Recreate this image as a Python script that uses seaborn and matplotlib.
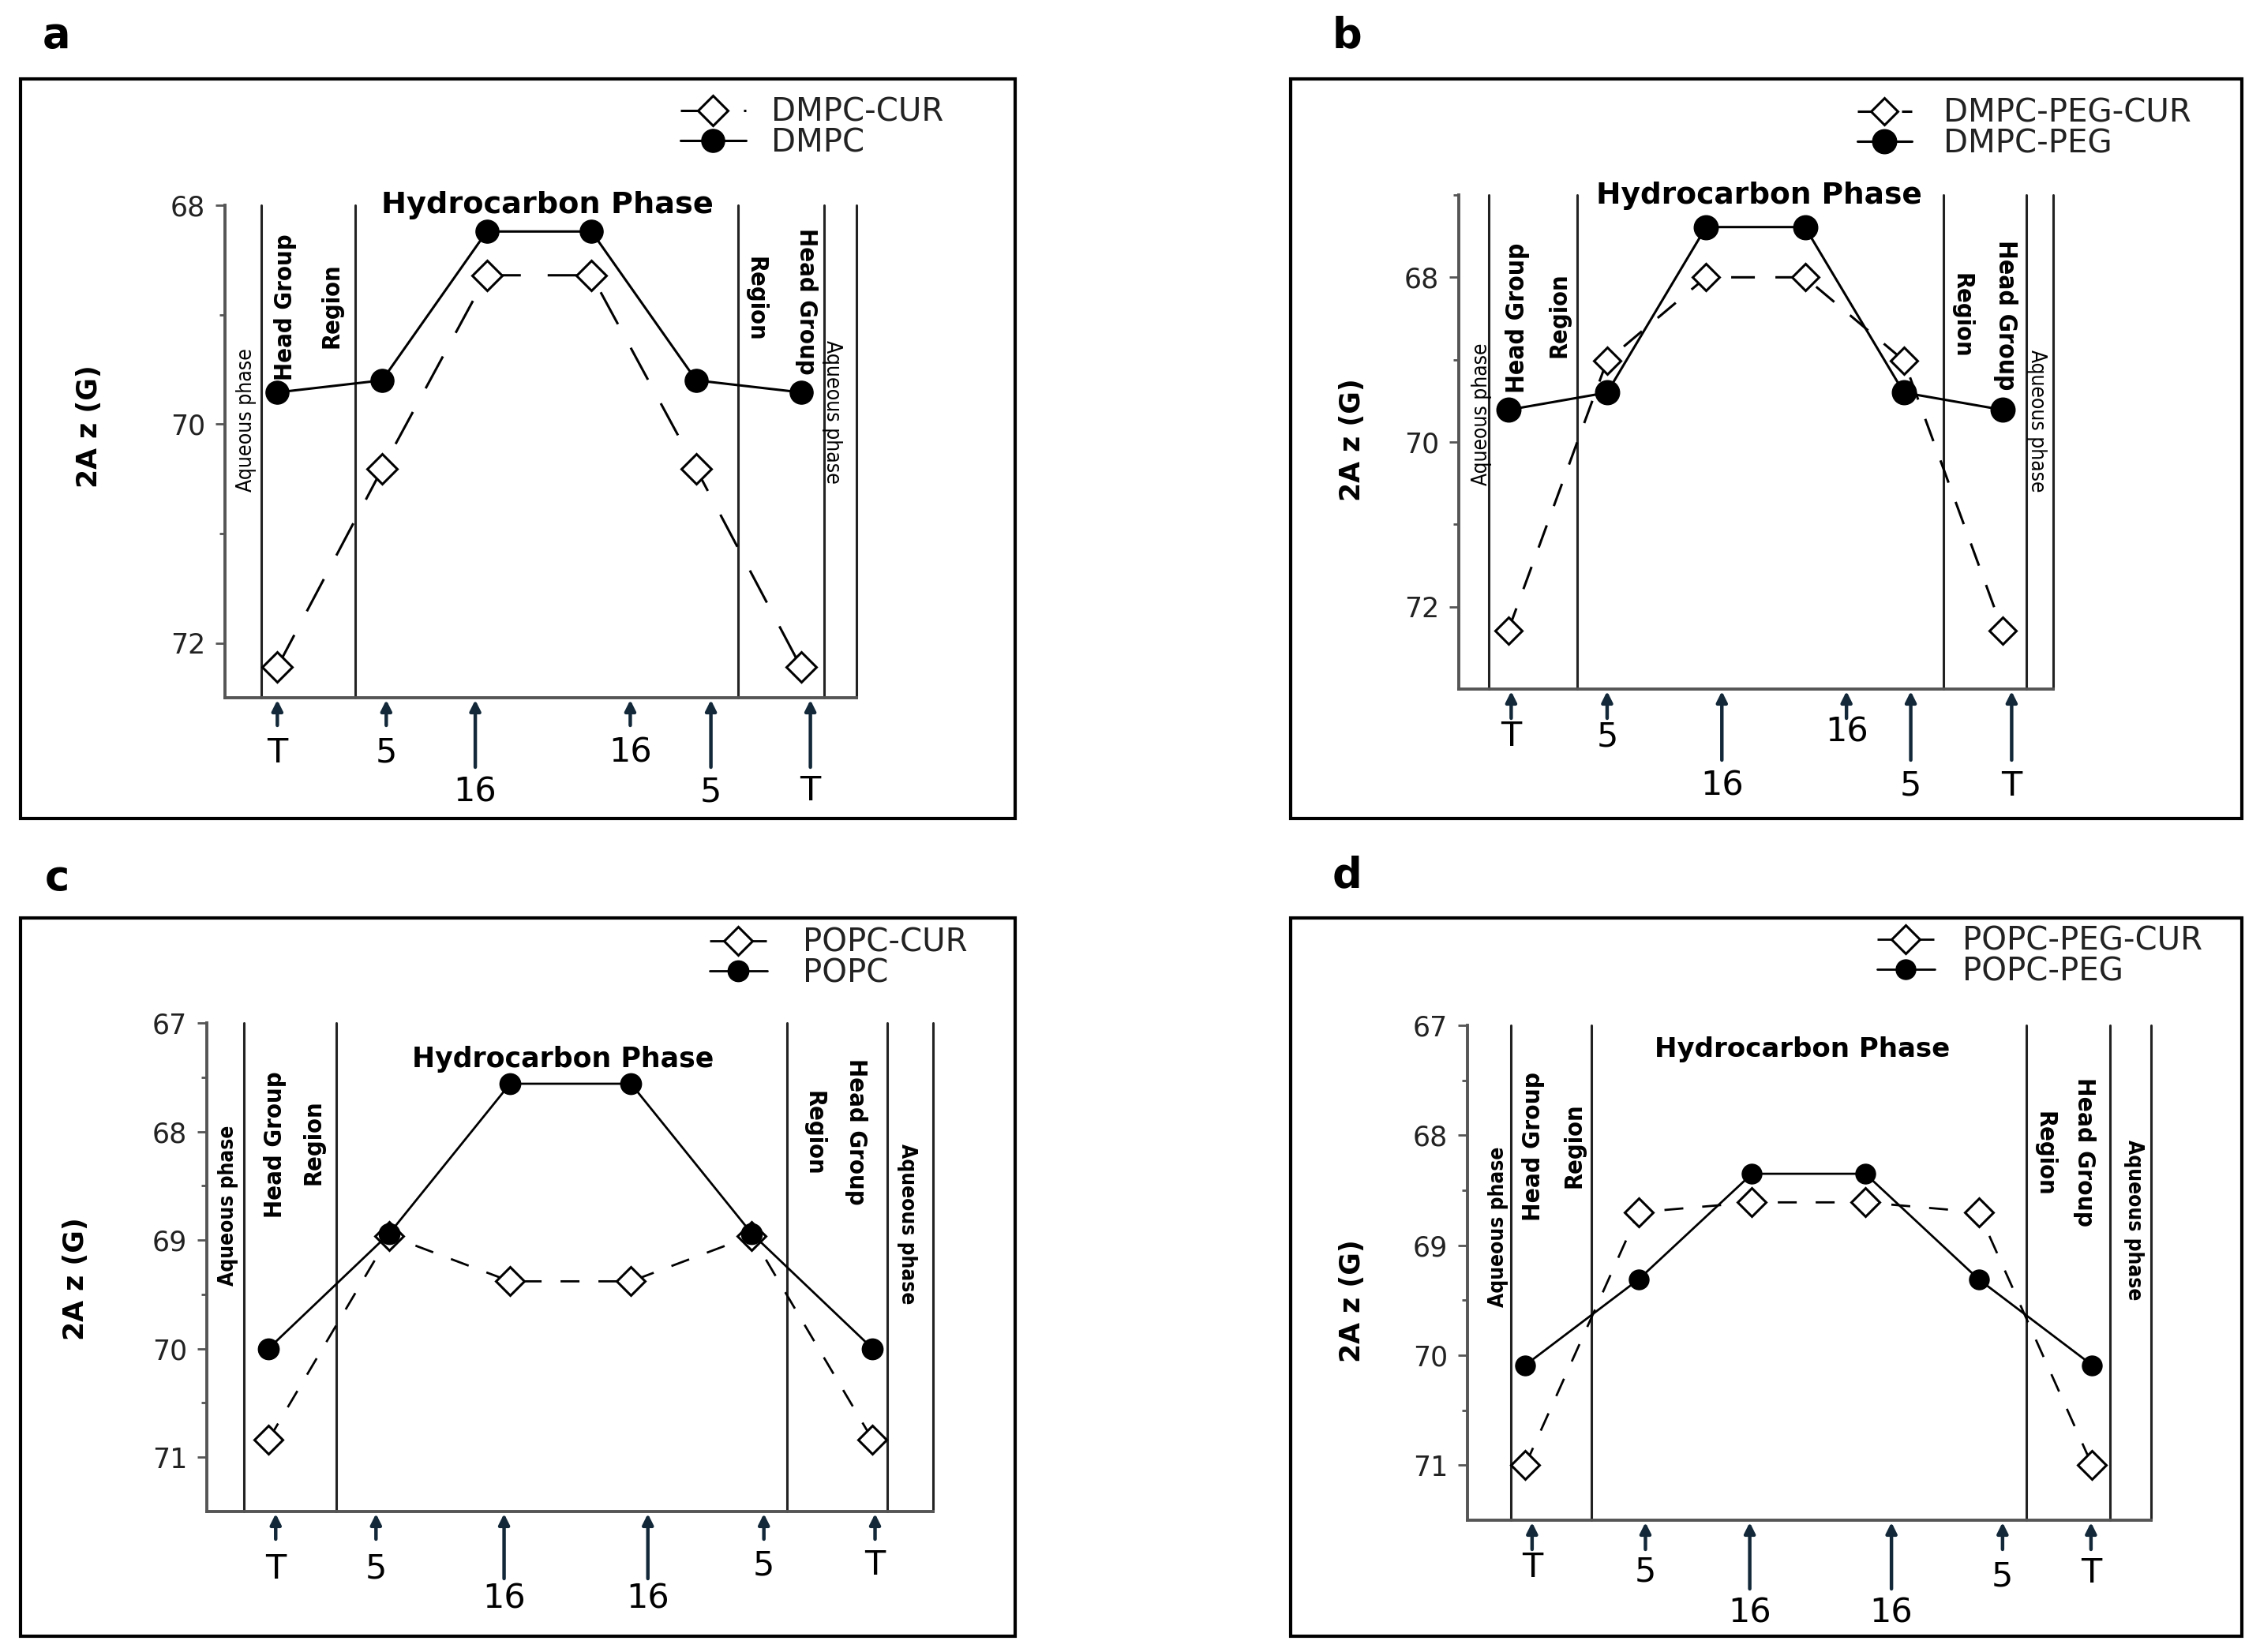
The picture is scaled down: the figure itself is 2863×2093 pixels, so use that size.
import os
import matplotlib
matplotlib.use("Agg")
import matplotlib.pyplot as plt
import seaborn as sns
import pandas as pd
from matplotlib import font_manager
from matplotlib.font_manager import FontProperties
from matplotlib.patches import Rectangle

# ---------------- data ----------------
positions = [1, 2, 3, 4, 5, 6]
arrow_labels = ["T", "5", "16", "16", "5", "T"]

a_labels = ["DMPC-CUR", "DMPC"]
a_cur = [72.22, 70.41, 68.64, 68.64, 70.41, 72.22]
a_base = [69.71, 69.60, 68.24, 68.24, 69.60, 69.71]
a_yticks = [68, 70, 72]
a_yminor = [69, 71]

b_labels = ["DMPC-PEG-CUR", "DMPC-PEG"]
b_cur = [72.29, 69.01, 68.00, 68.00, 69.01, 72.29]
b_base = [69.61, 69.40, 67.39, 67.39, 69.40, 69.61]
b_yticks = [68, 70, 72]
b_yminor = [67, 69, 71]

c_labels = ["POPC-CUR", "POPC"]
c_cur = [70.84, 68.96, 69.38, 69.38, 68.96, 70.84]
c_base = [70.00, 68.94, 67.56, 67.56, 68.94, 70.00]
c_yticks = [67, 68, 69, 70, 71]
c_yminor = [67.5, 68.5, 69.5, 70.5]

d_labels = ["POPC-PEG-CUR", "POPC-PEG"]
d_cur = [71.00, 68.70, 68.61, 68.61, 68.70, 71.00]
d_base = [70.09, 69.31, 68.35, 68.35, 69.31, 70.09]
d_yticks = [67, 68, 69, 70, 71]
d_yminor = [67.5, 68.5, 69.5, 70.5]

panel_letters = ["a", "b", "c", "d"]
ylabel = "2A z (G)"
hydro_text = "Hydrocarbon Phase"
aq_text = "Aqueous phase"
hg_text = "Head Group"
reg_text = "Region"

# ---------------- fonts ----------------
W, H = 2863, 2093
DPI = 100
sns.set_style("ticks")
plt.rcParams["font.family"] = ["DejaVu Sans"]
plt.rcParams["text.color"] = "black"
plt.rcParams["axes.labelcolor"] = "black"

all_files = [f.fname for f in font_manager.fontManager.ttflist]
try:
    all_files += font_manager.findSystemFonts()
except Exception:
    pass


def find_font(keys):
    for key in keys:
        for fp in all_files:
            if os.path.basename(fp).lower() == key.lower():
                return fp
    return None


narrow_bold = find_font(["LiberationSansNarrow-Bold.ttf", "DejaVuSansCondensed-Bold.ttf"])
narrow_reg = find_font(["LiberationSansNarrow-Regular.ttf", "DejaVuSansCondensed.ttf"])
sans_bold = find_font(["LiberationSans-Bold.ttf"])
sans_reg = find_font(["LiberationSans-Regular.ttf"])


def fprop(path, fallback_family, weight):
    if path:
        return FontProperties(fname=path)
    return FontProperties(family=fallback_family, weight=weight)


HG_FP = fprop(narrow_bold or sans_bold, "DejaVu Sans", "bold")
AQ_FP_AB = fprop(narrow_reg or sans_reg, "DejaVu Sans", "normal")
AQ_FP_CD = fprop(narrow_bold or sans_bold, "DejaVu Sans", "bold")

# ---------------- layout (pixels, figure 2863 x 2093) ----------------
panels = [
    dict(labels=a_labels, cur=a_cur, base=a_base, yticks=a_yticks, yminor=a_yminor,
         ylim=(72.5, 68.0), xlim=(0.5, 6.53),
         ax_px=(285, 260, 1085, 884), box=(26, 100, 1286, 1037),
         letter_xy=(72, 45), ylab_xy=(113, 540),
         vlines=[0.85, 1.74, 5.40, 6.22, 6.53],
         aq=[(0.76, 69.96), (6.24, 69.89)], hg=[(1.14, 68.93), (5.99, 68.88)],
         reg=[(1.58, 68.92), (5.50, 68.86)], hydro=(3.58, 68.07), hydro_fs=27.5,
         aq_bold=False, aq_len=182, hg_len=186, reg_len=108,
         arrows=[1.00, 2.04, 2.89, 4.37, 5.14, 6.09],
         arrow_long=[False, False, True, False, True, True],
         arrow_lab_off=[70, 70, 120, 70, 120, 118],
         arrow_len=(35, 88), ms_d=19, ms_o=21, lw=2.2, dash=(46, 34),
         leg_xy=(862, 162), leg_hl=2.06, leg_htp=0.79),
    dict(labels=b_labels, cur=b_cur, base=b_base, yticks=b_yticks, yminor=b_yminor,
         ylim=(73.0, 67.0), xlim=(0.5, 6.51),
         ax_px=(1848, 247, 2601, 873), box=(1635, 100, 2840, 1037),
         letter_xy=(1706, 45), ylab_xy=(1713, 557),
         vlines=[0.80, 1.70, 5.40, 6.24, 6.51],
         aq=[(0.79, 69.66), (6.29, 69.74)], hg=[(1.16, 68.49), (5.96, 68.46)],
         reg=[(1.585, 68.46), (5.52, 68.46)], hydro=(3.54, 67.11), hydro_fs=27,
         aq_bold=False, aq_len=180, hg_len=190, reg_len=108,
         arrows=[1.03, 2.00, 3.16, 4.42, 5.07, 6.09],
         arrow_long=[False, False, True, False, True, True],
         arrow_lab_off=[60, 60, 123, 55, 123, 123],
         arrow_len=(37, 90), ms_d=17.5, ms_o=22, lw=2.2, dash=(30, 26),
         leg_xy=(2353, 163), leg_hl=1.71, leg_htp=1.0),
    dict(labels=c_labels, cur=c_cur, base=c_base, yticks=c_yticks, yminor=c_yminor,
         ylim=(71.5, 67.0), xlim=(0.49, 6.50),
         ax_px=(262, 1296, 1182, 1915), box=(26, 1163, 1286, 2073),
         letter_xy=(72, 1113), ylab_xy=(96, 1620),
         vlines=[0.80, 1.56, 5.29, 6.12, 6.50],
         aq=[(0.71, 68.68), (6.24, 68.85)], hg=[(1.11, 68.12), (5.81, 68.00)],
         reg=[(1.43, 68.10), (5.46, 68.02)], hydro=(3.44, 67.41), hydro_fs=25,
         aq_bold=True, aq_len=203, hg_len=186, reg_len=108,
         arrows=[1.06, 1.89, 2.95, 4.14, 5.10, 6.02],
         arrow_long=[False, False, True, True, False, False],
         arrow_lab_off=[73, 73, 111, 111, 68, 68],
         arrow_len=(35, 85), ms_d=18.5, ms_o=19, lw=2.0, dash=(24, 24),
         leg_xy=(899, 1214), leg_hl=1.81, leg_htp=1.12),
    dict(labels=d_labels, cur=d_cur, base=d_base, yticks=d_yticks, yminor=d_yminor,
         ylim=(71.5, 67.0), xlim=(0.49, 6.52),
         ax_px=(1859, 1299, 2725, 1926), box=(1635, 1163, 2840, 2073),
         letter_xy=(1706, 1109), ylab_xy=(1713, 1648),
         vlines=[0.87, 1.58, 5.42, 6.16, 6.52],
         aq=[(0.81, 68.83), (6.32, 68.77)], hg=[(1.13, 68.10), (5.87, 68.15)],
         reg=[(1.49, 68.09), (5.52, 68.17)], hydro=(3.44, 67.29), hydro_fs=24.5,
         aq_bold=True, aq_len=203, hg_len=189, reg_len=108,
         arrows=[1.06, 2.06, 2.98, 4.23, 5.21, 5.99],
         arrow_long=[False, False, True, True, False, False],
         arrow_lab_off=[60, 65, 118, 118, 72, 67],
         arrow_len=(37, 87), ms_d=18, ms_o=18, lw=2.0, dash=(24, 24),
         leg_xy=(2378, 1212), leg_hl=1.81, leg_htp=0.87),
]

fig = plt.figure(figsize=(W / DPI, H / DPI), dpi=DPI)
fig.patch.set_facecolor("white")

SPINE = "#555555"
ARROW = "#13293a"
fit_list = []  # (text artist, target length in px)

for letter, p in zip(panel_letters, panels):
    bx0, by0, bx1, by1 = p["box"]
    fig.add_artist(Rectangle((bx0 / W, 1 - by1 / H), (bx1 - bx0) / W, (by1 - by0) / H,
                             transform=fig.transFigure, fill=False, lw=3.0,
                             edgecolor="black", zorder=0))
    fig.text(p["letter_xy"][0] / W, 1 - p["letter_xy"][1] / H, letter,
             fontsize=38, fontweight="bold", ha="center", va="center", color="black")

    x0, y0, x1, y1 = p["ax_px"]
    ax = fig.add_axes([x0 / W, 1 - y1 / H, (x1 - x0) / W, (y1 - y0) / H])
    ax.set_facecolor("none")

    df = pd.DataFrame({"pos": positions, "cur": p["cur"], "base": p["base"]})
    sns.lineplot(data=df, x="pos", y="cur", ax=ax, sort=False, estimator=None,
                 color="black", lw=p["lw"], marker="D", markersize=p["ms_d"],
                 markerfacecolor="white", markeredgecolor="black",
                 markeredgewidth=2.2, label=p["labels"][0], zorder=3)
    on, off = p["dash"]
    ax.lines[-1].set_dashes([on * 0.72 / p["lw"], off * 0.72 / p["lw"]])
    sns.lineplot(data=df, x="pos", y="base", ax=ax, sort=False, estimator=None,
                 color="black", lw=p["lw"], marker="o", markersize=p["ms_o"],
                 markerfacecolor="black", markeredgecolor="black",
                 markeredgewidth=1.0, label=p["labels"][1], zorder=4)

    ax.set_xlim(*p["xlim"])
    ax.set_ylim(*p["ylim"])
    ax.set_xlabel("")
    ax.set_ylabel("")
    ax.set_xticks([])
    ax.set_yticks(p["yticks"])
    ax.set_yticks(p["yminor"], minor=True)
    ax.set_yticklabels([str(t) for t in p["yticks"]])
    ax.tick_params(axis="y", which="major", length=9, width=2.0, color=SPINE,
                   labelsize=25, pad=9, labelcolor="#222222", direction="out")
    ax.tick_params(axis="y", which="minor", length=5, width=2.0, color=SPINE,
                   direction="out")
    for s in ["top", "right"]:
        ax.spines[s].set_visible(False)
    for s in ["left", "bottom"]:
        ax.spines[s].set_color(SPINE)
        ax.spines[s].set_linewidth(2.8)

    for xv in p["vlines"]:
        ax.axvline(xv, color="#222222", lw=2.2, zorder=1, clip_on=False)

    # region texts (rotated), sizes fitted to measured lengths below
    aq_fp = AQ_FP_CD if p["aq_bold"] else AQ_FP_AB
    for (xx, yy), rot in zip(p["aq"], [90, -90]):
        t = ax.text(xx, yy, aq_text, rotation=rot, rotation_mode="anchor",
                    ha="center", va="baseline", color="black",
                    fontproperties=aq_fp.copy())
        fit_list.append((t, p["aq_len"]))
    for (xx, yy), rot in zip(p["hg"], [90, -90]):
        t = ax.text(xx, yy, hg_text, rotation=rot, rotation_mode="anchor",
                    ha="center", va="baseline", color="black",
                    fontproperties=HG_FP.copy())
        fit_list.append((t, p["hg_len"]))
    for (xx, yy), rot in zip(p["reg"], [90, -90]):
        t = ax.text(xx, yy, reg_text, rotation=rot, rotation_mode="anchor",
                    ha="center", va="baseline", color="black",
                    fontproperties=HG_FP.copy())
        fit_list.append((t, p["reg_len"]))
    ax.text(p["hydro"][0], p["hydro"][1], hydro_text, fontsize=p["hydro_fs"],
            fontweight="bold", ha="center", va="baseline", clip_on=False,
            color="black")

    short_len, long_len = p["arrow_len"]
    for xa, lab, lng, off in zip(p["arrows"], arrow_labels, p["arrow_long"],
                                 p["arrow_lab_off"]):
        L = long_len if lng else short_len
        ax.annotate("", xy=(xa, 0), xycoords=("data", "axes fraction"),
                    xytext=(0, -L), textcoords="offset pixels",
                    arrowprops=dict(arrowstyle="-|>", color=ARROW, lw=3.2,
                                    shrinkA=0, shrinkB=2, mutation_scale=20),
                    annotation_clip=False)
        ax.annotate(lab, xy=(xa, 0), xycoords=("data", "axes fraction"),
                    xytext=(0, -off), textcoords="offset pixels",
                    ha="center", va="center", fontsize=31, color="black",
                    annotation_clip=False)

    fig.text(p["ylab_xy"][0] / W, 1 - p["ylab_xy"][1] / H, ylabel, rotation=90,
             fontsize=25, fontweight="bold", ha="center", va="center",
             color="black")

    lx, ly = p["leg_xy"]
    leg = ax.legend(loc="center left", bbox_to_anchor=(lx / W, 1 - ly / H),
                    bbox_transform=fig.transFigure, frameon=False, fontsize=29,
                    handlelength=p["leg_hl"], handletextpad=p["leg_htp"],
                    labelspacing=-0.03, borderpad=0, borderaxespad=0)
    for t in leg.get_texts():
        t.set_color("#222222")

# fit rotated label sizes so their lengths match the reference
for t, _ in fit_list:
    t.set_fontsize(20)
fig.canvas.draw()
renderer = fig.canvas.get_renderer()
for t, target in fit_list:
    ext = t.get_window_extent(renderer)
    length = max(ext.height, 1.0)
    t.set_fontsize(20 * target / length)

fig.savefig("out.png", dpi=DPI, facecolor="white")
